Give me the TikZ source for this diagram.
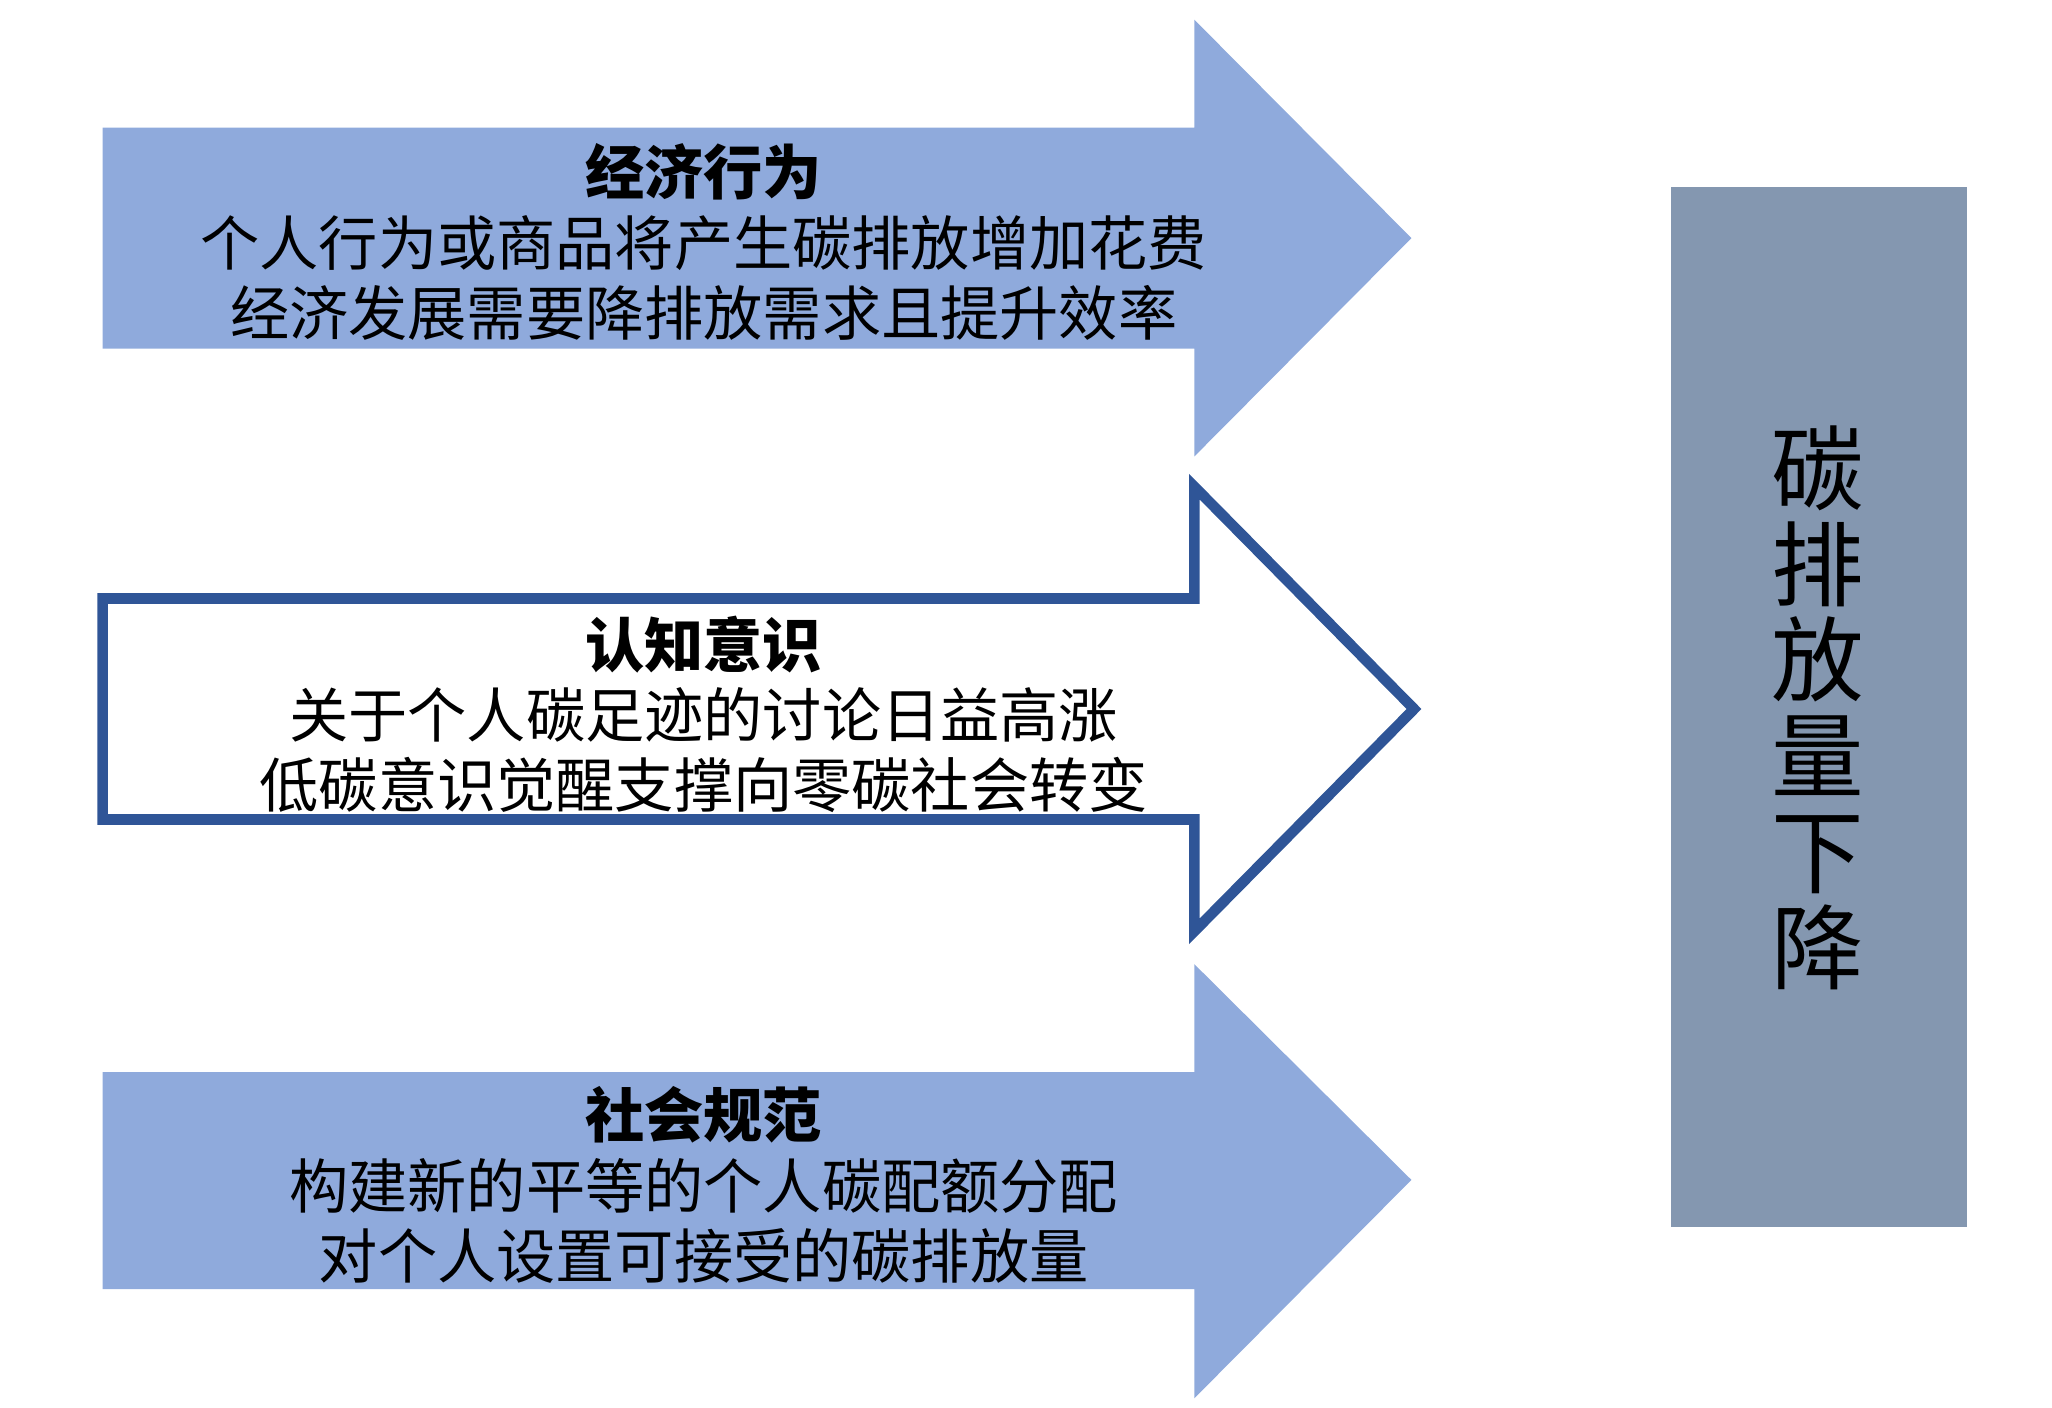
\documentclass[tikz,border=0pt]{standalone}
\usepackage{fontspec}
\newfontfamily\cjk{Noto Sans CJK SC}
\begin{document}
\begin{tikzpicture}[x=0.01cm,y=-0.01cm,
  filled/.style={fill=arrowblue,draw=none},
  hollow/.style={fill=white,draw=darkblue,line width=0.8mm},
  txt/.style={align=center,font=\cjk\fontsize{12.8pt}{15.2pt}\selectfont}]
\definecolor{arrowblue}{HTML}{8FAADC}
\definecolor{darkblue}{HTML}{2F5597}
\definecolor{boxgray}{HTML}{8497B0}
\useasboundingbox (0,0) rectangle (1560,1070);
\fill[arrowblue] (78,97) -- (908,97) -- (908,15) -- (1073,181) -- (908,347) -- (908,265) -- (78,265) -- cycle;
\draw[hollow] (78,455) -- (908,455) -- (908,370) -- (1075,539) -- (908,708) -- (908,623) -- (78,623) -- cycle;
\fill[arrowblue] (78,815) -- (908,815) -- (908,733) -- (1073,897) -- (908,1063) -- (908,980) -- (78,980) -- cycle;
\node[txt] (a1) at (535,184) {{\bfseries 经济行为}\\个人行为或商品将产生碳排放增加花费\\经济发展需要降排放需求且提升效率};
\node[txt] (a2) at (535,543) {{\bfseries 认知意识}\\关于个人碳足迹的讨论日益高涨\\低碳意识觉醒支撑向零碳社会转变};
\node[txt] (a3) at (535,901) {{\bfseries 社会规范}\\构建新的平等的个人碳配额分配\\对个人设置可接受的碳排放量};
\fill[boxgray] (1270,142) rectangle (1495,933);
\node[align=center,font=\cjk\fontsize{20pt}{20.7pt}\selectfont] (r) at (1382,538) {碳\\排\\放\\量\\下\\降};
\end{tikzpicture}
\end{document}
